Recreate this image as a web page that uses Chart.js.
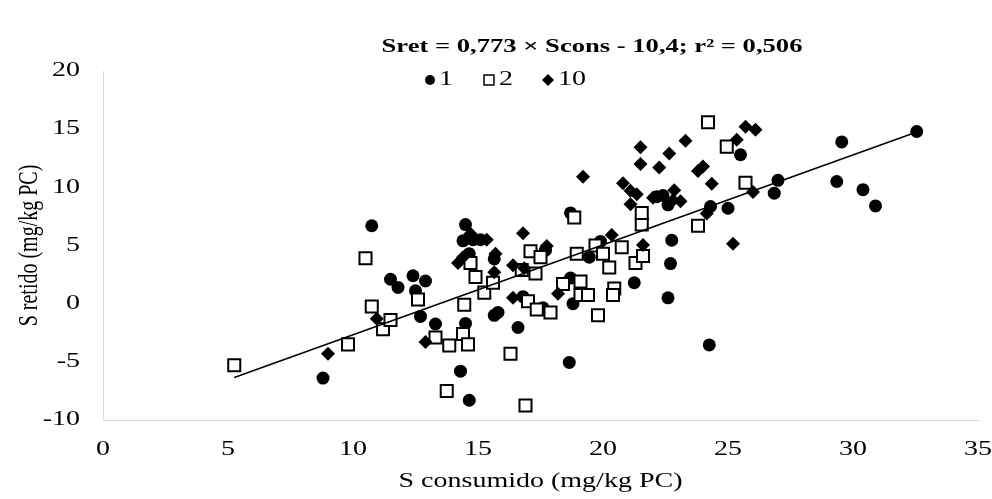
<!DOCTYPE html>
<html><head><meta charset="utf-8">
<script src="https://cdn.jsdelivr.net/npm/chart.js@4/dist/chart.umd.min.js"></script>
<style>html,body{margin:0;padding:0;background:#fff}#wrap{width:992px;height:499px}</style>
</head><body><div id="wrap"><canvas id="c" width="992" height="499"></canvas></div>
<script>
const titleText = 'Sret = 0,773 × Scons - 10,4; r² = 0,506';
const xAxisTitle = 'S consumido (mg/kg PC)';
const yAxisTitle = 'S retido (mg/kg PC)';
const seriesNames = ['1', '2', '10'];
const xTicks = [0, 5, 10, 15, 20, 25, 30, 35];
const yTicks = [-10, -5, 0, 5, 10, 15, 20];

// Series "1" (filled circles)
const s1x = [8.8, 10.75, 11.5, 11.8, 12.4, 12.5, 12.9, 12.7, 13.3, 14.3, 14.65, 14.5, 14.5, 14.4, 14.8, 15.1, 14.65, 15.65, 15.65, 15.8, 16.6, 16.8, 17.6, 17.7, 18.65, 18.7, 18.7, 18.8, 19.45, 19.9, 21.25, 22.15, 22.4, 22.6, 22.6, 22.7, 22.75, 24.25, 24.3, 25.0, 25.5, 26.85, 27.0, 29.35, 29.55, 30.4, 30.9, 32.55];
const s1y = [-6.4, 6.7, 2.1, 1.4, 2.4, 1.1, 1.95, -1.1, -1.75, -5.8, -8.3, -1.7, 6.8, 5.4, 5.5, 5.5, 4.3, 3.85, -1.0, -0.75, -2.05, 0.6, -0.35, 4.6, -5.05, 7.8, 2.2, 0.0, 4.0, 5.35, 1.8, 9.2, 9.3, 8.5, 0.5, 3.45, 5.45, -3.55, 8.35, 8.2, 12.8, 9.5, 10.6, 10.5, 13.9, 9.8, 8.4, 14.8];

// Series "2" (open squares)
const s2x = [5.25, 9.8, 10.5, 10.75, 11.2, 11.5, 12.6, 13.3, 13.75, 13.85, 14.4, 14.45, 14.6, 14.7, 14.9, 15.25, 15.6, 16.3, 16.75, 16.9, 17.0, 17.1, 17.3, 17.35, 17.5, 17.9, 18.4, 18.85, 18.95, 19.1, 19.1, 19.4, 19.7, 19.8, 20.0, 20.25, 20.45, 20.4, 20.75, 21.3, 21.6, 21.55, 21.55, 23.8, 24.2, 24.95, 25.7];
const s2y = [-5.3, -3.5, 3.9, -0.25, -2.2, -1.4, 0.35, -2.9, -7.5, -3.6, -2.6, -0.1, -3.5, 3.5, 2.3, 0.95, 1.8, -4.3, 2.9, -8.75, 0.2, 4.5, 2.6, -0.5, 4.0, -0.75, 1.7, 7.4, 4.3, 1.9, 0.75, 0.75, 5.0, -1.0, 4.3, 3.1, 1.3, 0.75, 4.85, 3.5, 4.1, 6.8, 7.8, 6.7, 15.6, 13.5, 10.4];

// Series "10" (filled diamonds)
const s3x = [9.0, 10.95, 12.9, 14.2, 14.4, 14.7, 15.35, 15.7, 15.65, 16.4, 16.85, 16.4, 16.8, 17.75, 18.2, 19.2, 20.35, 20.8, 21.1, 21.35, 21.1, 21.5, 21.5, 21.6, 22.0, 22.25, 22.65, 22.85, 22.8, 23.1, 23.3, 23.8, 24.0, 24.15, 24.35, 25.2, 25.35, 25.7, 26.1, 26.0];
const s3y = [-4.3, -1.3, -3.3, 3.5, 4.0, 6.0, 5.5, 4.3, 2.7, 3.3, 3.05, 0.5, 6.05, 4.95, 0.85, 10.9, 5.9, 10.35, 9.7, 9.4, 8.55, 13.45, 12.0, 5.05, 9.1, 11.7, 12.9, 9.75, 8.9, 8.8, 14.0, 11.4, 11.8, 7.75, 10.3, 5.15, 14.1, 15.2, 14.95, 9.6];

// Trend line end points
const trendX = [5.25, 32.55];
const trendY = [-6.34, 14.76];

const pts = (xs, ys) => xs.map((x, i) => ({x: x, y: ys[i]}));
const FONT = "'Liberation Serif', 'Times New Roman', serif";
const TEXT_SX = 1.4; // reference text is drawn horizontally widened

const canvas = document.getElementById('c');
const c2d = canvas.getContext('2d');
const origFill = c2d.fillText;
c2d.fillText = function (t, x, y) {
  const m = this.getTransform();
  const px = m.a * x + m.c * y + m.e;
  this.save();
  this.setTransform(new DOMMatrix([TEXT_SX, 0, 0, 1, px * (1 - TEXT_SX), 0]).multiply(m));
  origFill.call(this, t, x, y);
  this.restore();
};

const overlay = {
  id: 'overlay',
  afterDraw(chart) {
    const ctx = chart.ctx;
    ctx.save();
    ctx.fillStyle = '#000';
    ctx.font = "bold 19px " + FONT;
    ctx.textAlign = 'center';
    ctx.textBaseline = 'middle';
    ctx.fillText(titleText, 592, 47);
    // legend
    const items = [
      {style: 'circle', r: 5, fill: '#000', bw: 0, mx: 430, tx: 439},
      {style: 'rect', r: 7, fill: '#fff', bw: 1.5, mx: 489, tx: 499},
      {style: 'rectRot', r: 6, fill: '#000', bw: 0, mx: 548, tx: 558}
    ];
    ctx.font = "20px " + FONT;
    ctx.textAlign = 'left';
    items.forEach((it, i) => {
      ctx.fillStyle = it.fill;
      ctx.strokeStyle = '#000';
      ctx.lineWidth = it.bw;
      Chart.helpers.drawPoint(ctx, {pointStyle: it.style, radius: it.r, borderWidth: it.bw, rotation: 0}, it.mx, 80);
      ctx.fillStyle = '#000';
      ctx.fillText(seriesNames[i], it.tx, 80);
    });
    ctx.restore();
  }
};

new Chart(canvas, {
  type: 'scatter',
  data: {
    datasets: [
      {type: 'line', label: 'trend', data: pts(trendX, trendY), showLine: true, pointRadius: 0, borderColor: '#000', borderWidth: 1.6, fill: false, order: 0},
      {label: seriesNames[2], data: pts(s3x, s3y), pointStyle: 'rectRot', pointRadius: 7, backgroundColor: '#000', borderColor: '#000', borderWidth: 0, order: 1},
      {label: seriesNames[1], data: pts(s2x, s2y), pointStyle: 'rect', pointRadius: 8.5, backgroundColor: '#fff', borderColor: '#000', borderWidth: 2, order: 2},
      {label: seriesNames[0], data: pts(s1x, s1y), pointStyle: 'circle', pointRadius: 6.5, backgroundColor: '#000', borderColor: '#000', borderWidth: 0, order: 3}
    ]
  },
  options: {
    responsive: false,
    animation: false,
    devicePixelRatio: 1,
    layout: {padding: {top: 71, right: 0, left: 0, bottom: 0}},
    plugins: {legend: {display: false}, tooltip: {enabled: false}},
    scales: {
      x: {
        type: 'linear', min: 0, max: 35,
        afterBuildTicks: s => { s.ticks = xTicks.map(v => ({value: v})); },
        afterFit: s => { s.height = 79; s.paddingRight = 14; s.paddingLeft = 0; },
        grid: {display: false, drawTicks: false},
        border: {display: true, color: '#d9d9d9', width: 1},
        ticks: {color: '#000', font: {family: FONT, size: 20}, padding: 18, maxRotation: 0},
        title: {display: true, text: xAxisTitle, color: '#000', font: {family: FONT, size: 20}, padding: {top: 0, bottom: 5}}
      },
      y: {
        type: 'linear', min: -10, max: 20,
        afterBuildTicks: s => { s.ticks = yTicks.map(v => ({value: v})); },
        afterFit: s => { s.width = 103; s.paddingTop = 0; s.paddingBottom = 0; },
        grid: {display: false, drawTicks: false},
        border: {display: true, color: '#d9d9d9', width: 1},
        ticks: {color: '#000', font: {family: FONT, size: 20}, padding: 23},
        title: {display: true, text: yAxisTitle, color: '#000', font: {family: FONT, size: 20}, padding: {top: 18, bottom: 0}}
      }
    }
  },
  plugins: [overlay]
});
</script>
</body></html>
